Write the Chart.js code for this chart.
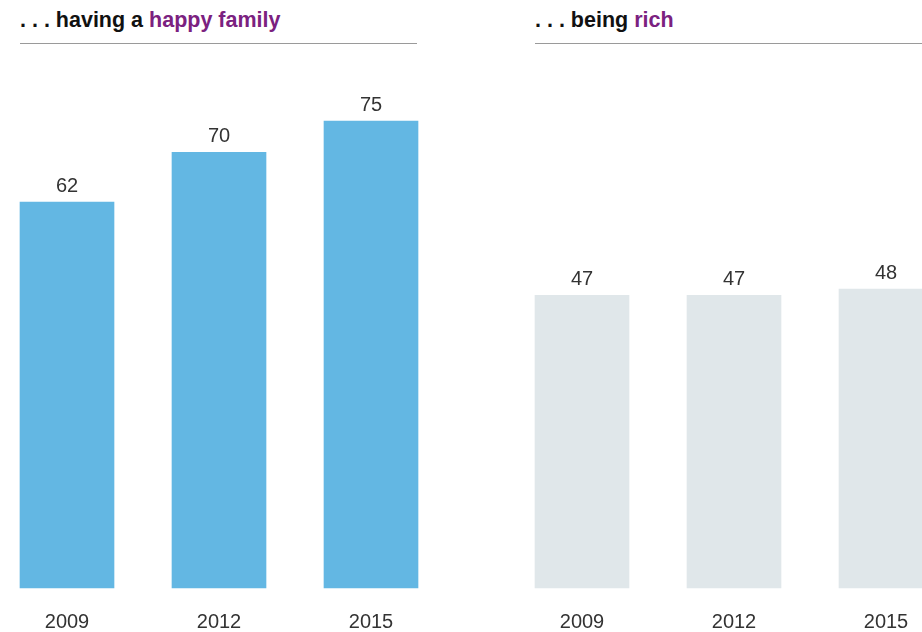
<!DOCTYPE html>
<html>
<head>
<meta charset="utf-8">
<script src="https://cdn.jsdelivr.net/npm/chart.js@4/dist/chart.umd.min.js"></script>
<style>
  html, body { margin: 0; padding: 0; background: #fff; overflow: hidden; }
  body { width: 922px; height: 632px; position: relative; font-family: "Liberation Sans", Arial, sans-serif; }
  .panel { position: absolute; top: 0; width: 460px; height: 632px; overflow: visible; }
  .title { position: absolute; top: 8px; font-size: 21.5px; font-weight: bold; color: #111; white-space: nowrap; line-height: 24px; }
  .title span { color: #7b2180; }
  .rule { position: absolute; top: 43px; height: 0; border-top: 1.5px solid #9a9a9a; }
  canvas { position: absolute; left: 0; top: 0; }
</style>
</head>
<body>
<div class="panel" style="left:0">
  <div class="title" style="left:20px">. . . having a <span>happy family</span></div>
  <div class="rule" style="left:20px;width:397px"></div>
  <canvas id="familyChart" width="460" height="656"></canvas>
</div>
<div class="panel" style="left:515px">
  <div class="title" style="left:20px">. . . being <span>rich</span></div>
  <div class="rule" style="left:20px;width:400px"></div>
  <canvas id="richChart" width="460" height="656"></canvas>
</div>
<script>
const years = ["2009", "2012", "2015"];
const familyValues = [62, 70, 75];
const richValues = [47, 47, 48];

// angka di atas batang
const valueLabels = {
  id: "valueLabels",
  afterDatasetsDraw(chart) {
    const ctx = chart.ctx;
    ctx.save();
    ctx.font = "20px 'Liberation Sans', Arial, sans-serif";
    ctx.fillStyle = "#333";
    ctx.textAlign = "center";
    ctx.textBaseline = "bottom";
    chart.getDatasetMeta(0).data.forEach((bar, i) => {
      ctx.fillText(chart.data.datasets[0].data[i], bar.x, bar.y - 6);
    });
    ctx.restore();
  }
};

function makeChart(id, values, color) {
  return new Chart(document.getElementById(id), {
    type: "bar",
    data: {
      labels: years,
      datasets: [{
        data: values,
        backgroundColor: color,
        borderWidth: 0,
        barThickness: 94,
        clip: false
      }]
    },
    options: {
      responsive: false,
      animation: false,
      layout: { padding: { left: 67, right: 89, top: 90, bottom: 0 } },
      plugins: { legend: { display: false }, tooltip: { enabled: false } },
      scales: {
        x: {
          offset: false,
          grid: { display: false, drawTicks: false },
          border: { display: false },
          ticks: {
            color: "#333",
            padding: 22,
            font: { family: "'Liberation Sans', Arial, sans-serif", size: 20 }
          }
        },
        y: { display: false, min: 0, max: 80 }
      }
    },
    plugins: [valueLabels]
  });
}

makeChart("familyChart", familyValues, "#63b7e3");
makeChart("richChart", richValues, "#e0e7ea");
</script>
</body>
</html>
